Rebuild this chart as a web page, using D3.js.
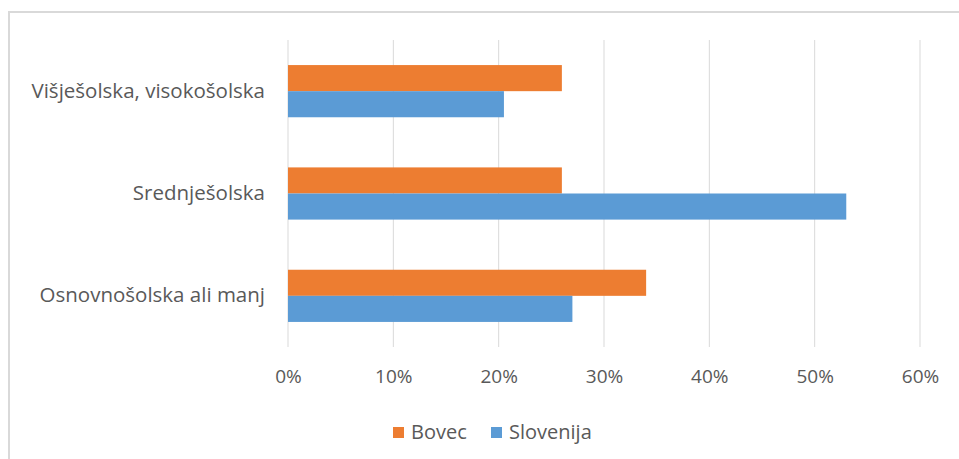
<!DOCTYPE html>
<html lang="sl">
<head>
<meta charset="UTF-8">
<title>Izobrazba - Bovec / Slovenija</title>
<script src="https://cdn.jsdelivr.net/npm/d3@7"></script>
<style>
  body { margin: 0; background: #fff; }
  svg text { font-family: "Open Sans", "Liberation Sans", sans-serif; fill: #595959; }
</style>
</head>
<body>
<svg id="chart" width="959" height="459"></svg>
<script>
// categories top to bottom
const categories = ['Višješolska, visokošolska', 'Srednješolska', 'Osnovnošolska ali manj'];
const seriesNames = ['Bovec', 'Slovenija'];
const bovec = [0.26, 0.26, 0.34];
const slovenija = [0.205, 0.53, 0.27];
const xTicks = [0, 0.1, 0.2, 0.3, 0.4, 0.5, 0.6];
const colors = ['#ED7D31', '#5B9BD5'];

const svg = d3.select('#chart');

// chart frame (only top and left edges visible in the crop)
svg.append('path')
  .attr('d', 'M9,459 V12 H959')
  .attr('fill', 'none')
  .attr('stroke', '#d9d9d9')
  .attr('stroke-width', 2);

const margin = { top: 40, left: 288, right: 39, bottom: 112 };
const width = 959 - margin.left - margin.right;
const height = 459 - margin.top - margin.bottom;

const g = svg.append('g').attr('transform', `translate(${margin.left},${margin.top})`);

const x = d3.scaleLinear().domain([0, 0.6]).range([0, width]);
const y = d3.scaleBand().domain(categories).range([0, height]).paddingInner(0.49).paddingOuter(0.245);
const ySub = d3.scaleBand().domain(seriesNames).range([0, y.bandwidth()]);

// gridlines
g.selectAll('.grid')
  .data(xTicks)
  .enter().append('line')
  .attr('class', 'grid')
  .attr('x1', d => x(d)).attr('x2', d => x(d))
  .attr('y1', 0).attr('y2', height)
  .attr('stroke', '#d9d9d9')
  .attr('stroke-width', 1);

const rows = categories.map((c, i) => ({ cat: c, vals: [bovec[i], slovenija[i]] }));

const groups = g.selectAll('.cat')
  .data(rows)
  .enter().append('g')
  .attr('class', 'cat')
  .attr('transform', d => `translate(0,${y(d.cat)})`);

groups.selectAll('rect')
  .data(d => d.vals.map((v, j) => ({ name: seriesNames[j], v: v, color: colors[j] })))
  .enter().append('rect')
  .attr('x', x(0))
  .attr('y', d => ySub(d.name))
  .attr('width', d => x(d.v) - x(0))
  .attr('height', ySub.bandwidth())
  .attr('fill', d => d.color);

// x axis labels
const xAxis = g.append('g')
  .attr('transform', `translate(0,${height})`)
  .call(d3.axisBottom(x).tickValues(xTicks).tickFormat(d3.format('.0%')).tickSize(0).tickPadding(23));
xAxis.select('.domain').remove();
xAxis.selectAll('text').style('font-size', '19px').attr('fill', '#595959');

// y axis labels
const yAxis = g.append('g')
  .call(d3.axisLeft(y).tickSize(0).tickPadding(23));
yAxis.select('.domain').remove();
yAxis.selectAll('text').style('font-size', '20.5px').attr('fill', '#595959');

// legend
const legendX = [393, 491];
const legend = svg.selectAll('.legend')
  .data(seriesNames)
  .enter().append('g')
  .attr('class', 'legend')
  .attr('transform', (d, i) => `translate(${legendX[i]},432)`);

legend.append('rect')
  .attr('x', 0).attr('y', -5)
  .attr('width', 11).attr('height', 11)
  .attr('fill', (d, i) => colors[i]);

legend.append('text')
  .attr('x', 18).attr('y', 0)
  .attr('dy', '0.35em')
  .style('font-size', '20px')
  .text(d => d);
</script>
</body>
</html>
